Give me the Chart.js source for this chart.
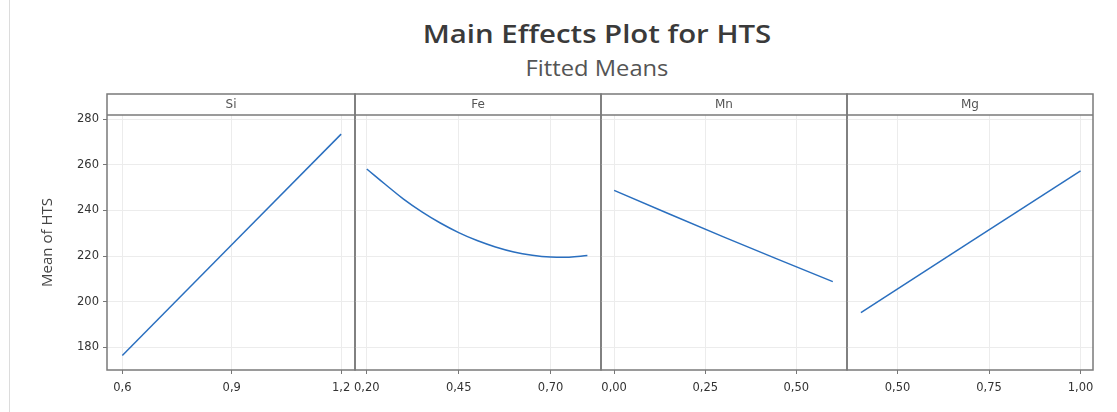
<!DOCTYPE html>
<html>
<head>
<meta charset="utf-8">
<script src="https://cdn.jsdelivr.net/npm/chart.js@4.4.0/dist/chart.umd.min.js"></script>
<style>
  body { margin: 0; background: #fff; }
  #wrap { position: relative; width: 1117px; height: 412px; overflow: hidden; background: #fff; }
  #wrap canvas { position: absolute; left: 0; top: 0; }
  .edge { position: absolute; left: 9px; top: 0; width: 1px; height: 412px; background: #dcdcdc; }
  .txt { position: absolute; left: 597px; white-space: nowrap; font-family: "Open Sans", sans-serif;
         transform: translateX(-50%) scaleX(1.13); }
  #title { top: 18px; font-size: 26px; line-height: 30px; font-weight: 600; color: #3a3a3a; }
  #subtitle { top: 55px; font-size: 21px; line-height: 26px; color: #555; }
</style>
</head>
<body>
<div id="wrap">
  <div class="edge"></div>
  <div class="txt" id="title">Main Effects Plot for HTS</div>
  <div class="txt" id="subtitle">Fitted Means</div>
  <canvas id="c0" width="1117" height="412"></canvas>
  <canvas id="c1" width="1117" height="412"></canvas>
  <canvas id="c2" width="1117" height="412"></canvas>
  <canvas id="c3" width="1117" height="412"></canvas>
</div>
<script>
// values
const factors = ["Si", "Fe", "Mn", "Mg"];

const siX = [0.6, 1.2];
const siY = [176.4, 273.5];

const feX = [0.20, 0.25, 0.30, 0.35, 0.40, 0.45, 0.50, 0.55, 0.60, 0.65, 0.70, 0.75, 0.80];
const feY = [258.2, 251.5, 245.0, 239.4, 234.5, 230.3, 226.8, 224.0, 221.8, 220.4, 219.6, 219.5, 220.2];

const mnX = [0.00, 0.30, 0.60];
const mnY = [248.8, 228.4, 208.8];

const mgX = [0.40, 1.00];
const mgY = [195.2, 257.4];

const yTicks = [180, 200, 220, 240, 260, 280];

const siTicks = [0.6, 0.9, 1.2];
const siLabels = ["0,6", "0,9", "1,2"];
const feTicks = [0.20, 0.45, 0.70];
const feLabels = ["0,20", "0,45", "0,70"];
const mnTicks = [0.00, 0.25, 0.50];
const mnLabels = ["0,00", "0,25", "0,50"];
const mgTicks = [0.50, 0.75, 1.00];
const mgLabels = ["0,50", "0,75", "1,00"];

// panel layout
const W = 1117;
const panels = [
  {xs: siX, ys: siY, ticks: siTicks, labels: siLabels, min: 0.558, max: 1.238, left: 107, right: 355},
  {xs: feX, ys: feY, ticks: feTicks, labels: feLabels, min: 0.168, max: 0.837, left: 355, right: 601},
  {xs: mnX, ys: mnY, ticks: mnTicks, labels: mnLabels, min: -0.036, max: 0.639, left: 601, right: 847},
  {xs: mgX, ys: mgY, ticks: mgTicks, labels: mgLabels, min: 0.362, max: 1.034, left: 847, right: 1093},
];
const headerTop = 94;
const plotTop = 115;
const plotBottom = 370;

const tickFont = {family: "DejaVu Sans", size: 11.5};

const framePlugin = {
  id: "frame",
  afterDraw(chart, args, opts) {
    const {ctx, chartArea: a} = chart;
    ctx.save();
    ctx.strokeStyle = "#7a7a7a";
    ctx.lineWidth = 1.5;
    ctx.strokeRect(a.left, headerTop, a.right - a.left, a.bottom - headerTop);
    ctx.beginPath();
    ctx.moveTo(a.left, a.top);
    ctx.lineTo(a.right, a.top);
    ctx.stroke();
    ctx.fillStyle = "#555";
    ctx.font = "12px 'DejaVu Sans'";
    ctx.textAlign = "center";
    ctx.textBaseline = "middle";
    ctx.fillText(opts.name, (a.left + a.right) / 2, (headerTop + a.top) / 2 + 0.5);
    ctx.restore();
  }
};

panels.forEach((p, i) => {
  const first = i === 0;
  const pts = p.xs.map((x, k) => ({x: x, y: p.ys[k]}));
  new Chart(document.getElementById("c" + i), {
    type: "line",
    data: {
      datasets: [{
        data: pts,
        borderColor: "#2a6fbf",
        borderWidth: 1.5,
        pointRadius: 0,
        tension: 0.4,
        fill: false,
      }],
    },
    options: {
      responsive: false,
      animation: false,
      events: [],
      layout: {padding: {left: first ? 0 : p.left, right: W - p.right, top: plotTop, bottom: 0}},
      plugins: {
        legend: {display: false},
        tooltip: {enabled: false},
        frame: {name: factors[i]},
      },
      scales: {
        x: {
          type: "linear",
          min: p.min,
          max: p.max,
          afterBuildTicks: (axis) => { axis.ticks = p.ticks.map(v => ({value: v})); },
          afterFit: (axis) => { axis.height = 412 - plotBottom; },
          ticks: {
            font: tickFont,
            color: "#333",
            padding: 7,
            maxRotation: 0,
            autoSkip: false,
            callback: (v) => { const k = p.ticks.findIndex(t => Math.abs(t - v) < 1e-9); return k >= 0 ? p.labels[k] : ""; },
          },
          grid: {color: "#ececec", lineWidth: 1, tickColor: "#777", tickLength: 4},
          border: {display: false},
        },
        y: {
          min: 170,
          max: 281.9,
          afterBuildTicks: (axis) => { axis.ticks = yTicks.map(v => ({value: v})); },
          afterFit: (axis) => { axis.width = first ? p.left : 0; },
          ticks: {display: first, font: tickFont, color: "#333", padding: 4},
          grid: {color: "#ececec", lineWidth: 1, tickColor: "#777", tickLength: 4, drawTicks: first},
          border: {display: false},
          title: {
            display: first,
            text: "Mean of HTS",
            color: "#444",
            font: {family: "Open Sans", size: 15},
            padding: {top: 39, bottom: 0},
          },
        },
      },
    },
    plugins: [framePlugin],
  });
});
</script>
</body>
</html>
